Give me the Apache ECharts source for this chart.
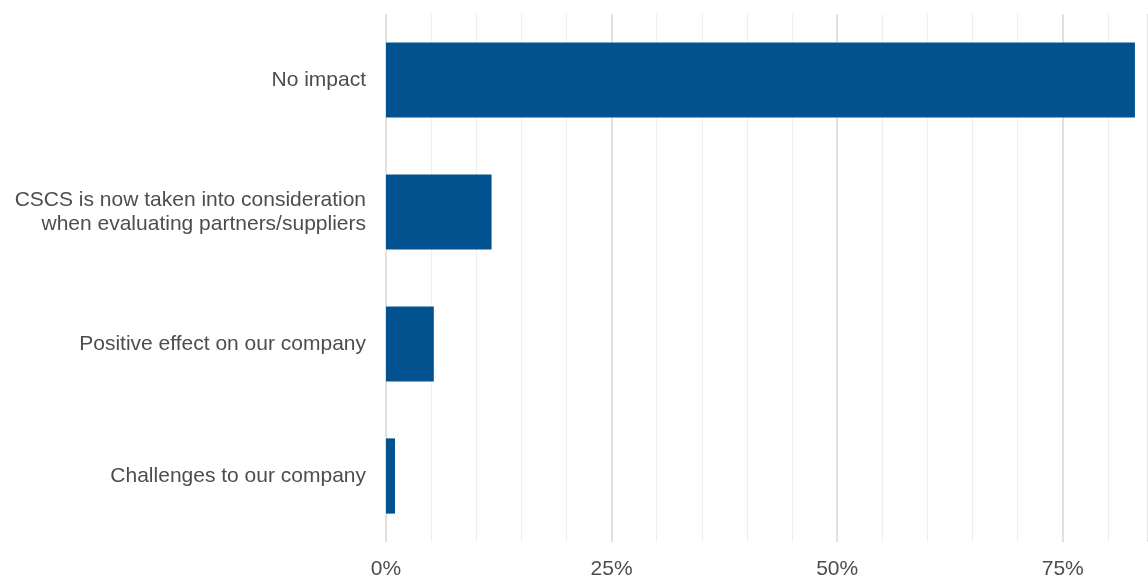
<!DOCTYPE html>
<html>
<head>
<meta charset="utf-8">
<script src="https://cdn.jsdelivr.net/npm/echarts@6/dist/echarts.min.js"></script>
<style>
  html, body { margin: 0; padding: 0; background: #fff; }
  #chart { width: 1148px; height: 580px; }
</style>
</head>
<body>
<div id="chart"></div>
<script>
// Survey responses: impact of CSCS (share of respondents, %)
const categories = [
  'No impact',
  'CSCS is now taken into consideration\nwhen evaluating partners/suppliers',
  'Positive effect on our company',
  'Challenges to our company'
];
const shares = [83.0, 11.7, 5.3, 1.0];
const tickValues = [0, 25, 50, 75];

const axisMax = 84.45;
const fontFamily = '"Liberation Sans", Arial, sans-serif';

const chart = echarts.init(document.getElementById('chart'), null, { renderer: 'canvas' });
chart.setOption({
  animation: false,
  grid: { left: 386, right: -2, top: 14, bottom: 33, containLabel: false },
  xAxis: [
    {
      type: 'value', min: 0, max: axisMax, interval: 25,
      axisLine: { show: false }, axisTick: { show: false },
      splitLine: { show: true, lineStyle: { color: '#dcdcdc', width: 1.6 } },
      axisLabel: {
        showMaxLabel: false,
        margin: 17,
        color: '#4d4d4d', fontSize: 21, fontFamily: fontFamily,
        formatter: v => tickValues.includes(v) ? v + '%' : ''
      },
      z: 2
    },
    {
      type: 'value', min: 0, max: axisMax, interval: 5, position: 'bottom',
      axisLine: { show: false }, axisTick: { show: false }, axisLabel: { show: false },
      splitLine: { show: true, lineStyle: { color: '#efefef', width: 1.2 } },
      z: 1
    }
  ],
  yAxis: {
    type: 'category', data: categories, inverse: true,
    axisLine: { show: false }, axisTick: { show: false },
    axisLabel: {
      margin: 20, color: '#4d4d4d', fontSize: 21, fontFamily: fontFamily,
      align: 'right', lineHeight: 24
    }
  },
  series: [{
    type: 'bar', data: shares, xAxisIndex: 0,
    barWidth: '57%',
    itemStyle: { color: '#02528f' },
    z: 3
  }]
});
</script>
</body>
</html>
